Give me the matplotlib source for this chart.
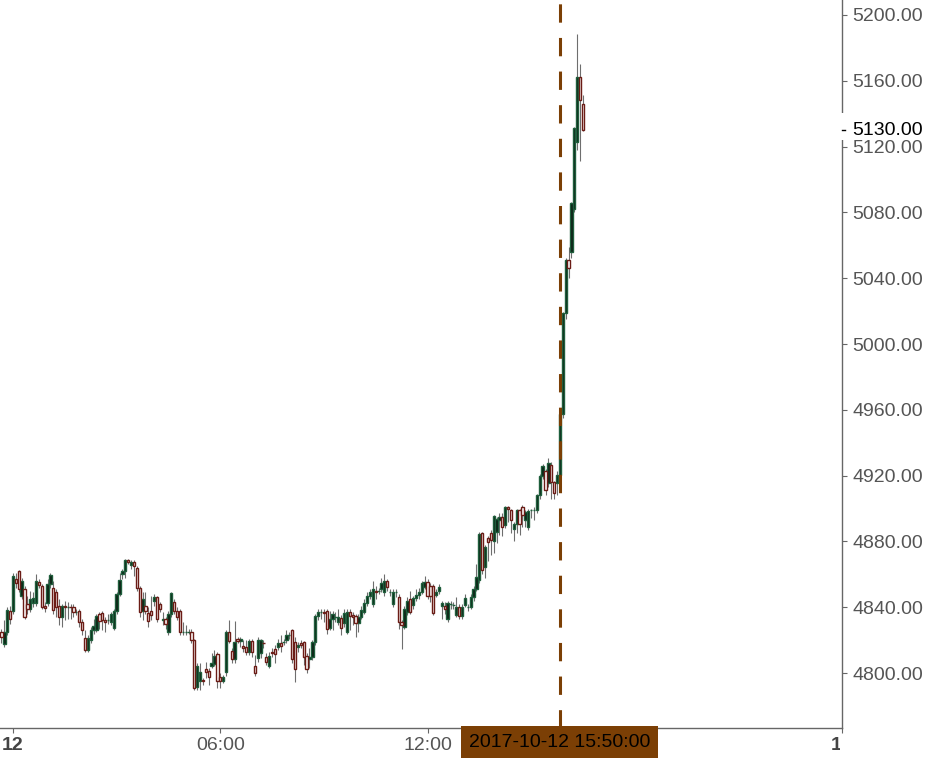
import numpy as np
import pandas as pd
import matplotlib
matplotlib.use('Agg')
import matplotlib.pyplot as plt
import matplotlib.dates as mdates
import matplotlib.transforms as mtransforms
from matplotlib.patches import Rectangle

plt.rcParams['font.family'] = ['Liberation Sans', 'DejaVu Sans']

# 5-minute candles, first one at 2017-10-11 23:40
start = '2017-10-11 23:40'

opens = [
    4825.1, 4817.6, 4825.1, 4837.9, 4837.9, 4857.0, 4862.0, 4846.8, 4850.9, 4841.7,
    4838.7, 4842.8, 4842.8, 4855.5, 4852.9, 4840.7, 4842.4, 4853.9, 4851.5, 4849.0,
    4840.7, 4834.3, 4840.7, 4840.3, 4840.3, 4839.9, 4837.3, 4837.5, 4831.0, 4821.3,
    4814.0, 4820.1, 4826.0, 4826.0, 4835.7, 4836.7, 4832.2, 4832.2, 4831.0, 4827.2,
    4837.9, 4848.0, 4860.0, 4862.0, 4868.7, 4865.7, 4867.7, 4863.6, 4851.9, 4837.7,
    4840.7, 4836.3, 4837.7, 4844.0, 4846.0, 4841.9, 4832.2, 4832.6, 4824.9, 4835.9,
    4843.0, 4837.9, 4837.7, 4824.9, 4824.9, 4824.9, 4824.9, 4819.9, 4791.5, 4795.4,
    4795.8, 4802.2, 4801.4, 4804.3, 4805.5, 4811.4, 4797.8, 4795.4, 4800.4, 4824.9,
    4813.4, 4808.3, 4820.5, 4819.3, 4816.4, 4815.6, 4812.6, 4819.5, 4804.3, 4809.3,
    4812.0, 4818.4, 4809.5, 4804.5, 4812.6, 4814.4, 4816.0, 4818.4, 4819.1, 4820.1,
    4823.1, 4826.2, 4818.7, 4816.0, 4818.0, 4818.7, 4810.1, 4808.7, 4809.9, 4818.7,
    4834.7, 4837.3, 4837.3, 4837.5, 4827.6, 4832.6, 4834.3, 4830.8, 4833.2, 4830.2,
    4825.1, 4837.3, 4835.3, 4834.7, 4830.6, 4834.3, 4837.3, 4842.4, 4846.8, 4841.9,
    4850.1, 4850.1, 4850.9, 4849.0, 4856.1, 4849.0, 4841.7, 4849.0, 4846.0, 4830.8,
    4828.2, 4837.3, 4844.8, 4841.3, 4845.4, 4847.4, 4849.0, 4852.5, 4855.3, 4852.9,
    4852.9, 4847.6, 4850.1, 4840.9, 4840.9, 4832.6, 4841.9, 4841.5, 4835.3, 4840.3,
    4834.9, 4841.3, 4840.3, 4840.3, 4846.0, 4851.0, 4856.5, 4884.9, 4864.2, 4881.8,
    4884.9, 4880.4, 4885.5, 4893.0, 4895.0, 4889.9, 4900.7, 4899.4, 4887.3, 4890.9,
    4899.4, 4900.7, 4893.0, 4888.5, 4899.0, 4899.0, 4899.0, 4908.2, 4919.7, 4922.6,
    4915.7, 4926.4, 4915.9, 4915.5, 4920.4, 4957.4, 5019.0, 5051.0, 5055.9, 5082.0,
    5122.8, 5162.3, 5145.9,
]
closes = [
    4821.7, 4825.1, 4838.3, 4832.6, 4859.0, 4854.9, 4850.9, 4855.9, 4834.3, 4838.7,
    4844.8, 4845.8, 4855.9, 4853.5, 4840.3, 4839.7, 4853.9, 4859.6, 4838.3, 4840.3,
    4834.3, 4840.7, 4840.3, 4840.3, 4839.9, 4837.1, 4837.3, 4831.0, 4826.0, 4814.0,
    4821.3, 4826.0, 4828.6, 4834.7, 4831.6, 4832.0, 4830.8, 4832.2, 4835.7, 4837.9,
    4848.0, 4856.3, 4862.0, 4868.7, 4867.7, 4867.7, 4865.3, 4851.9, 4837.3, 4844.8,
    4837.9, 4831.8, 4835.1, 4846.0, 4833.0, 4838.7, 4832.6, 4829.6, 4835.9, 4848.4,
    4837.9, 4833.8, 4824.9, 4824.9, 4824.9, 4824.9, 4819.9, 4790.7, 4804.3, 4800.8,
    4795.2, 4800.8, 4797.8, 4805.9, 4810.3, 4795.4, 4795.2, 4797.8, 4824.9, 4819.5,
    4808.3, 4818.7, 4819.3, 4820.5, 4815.2, 4812.6, 4819.5, 4812.6, 4799.8, 4820.1,
    4820.1, 4818.0, 4806.5, 4810.5, 4812.4, 4811.8, 4818.4, 4816.6, 4819.1, 4823.1,
    4823.1, 4808.7, 4802.6, 4817.0, 4817.0, 4809.9, 4802.6, 4809.9, 4818.7, 4834.7,
    4837.3, 4837.3, 4836.7, 4826.6, 4832.6, 4835.7, 4834.3, 4833.9, 4827.6, 4836.3,
    4837.3, 4834.9, 4834.3, 4830.6, 4834.3, 4838.3, 4842.4, 4846.8, 4849.0, 4850.9,
    4849.0, 4850.1, 4854.9, 4856.1, 4852.5, 4849.0, 4849.0, 4849.0, 4830.8, 4829.0,
    4838.7, 4843.8, 4837.3, 4845.4, 4847.4, 4849.0, 4854.5, 4855.3, 4847.0, 4847.0,
    4836.7, 4849.0, 4852.5, 4842.4, 4838.9, 4842.4, 4841.9, 4841.5, 4840.3, 4834.9,
    4840.3, 4845.4, 4840.3, 4846.0, 4851.0, 4858.2, 4884.5, 4862.6, 4876.4, 4879.6,
    4880.8, 4895.4, 4893.6, 4895.0, 4888.5, 4900.7, 4899.7, 4892.8, 4890.9, 4899.4,
    4890.5, 4896.0, 4897.6, 4898.6, 4899.0, 4899.0, 4908.2, 4919.7, 4925.8, 4911.2,
    4927.8, 4915.9, 4909.2, 4920.4, 4957.4, 5018.9, 5051.0, 5046.0, 5085.7, 5131.3,
    5162.3, 5148.3, 5130.0,
]
highs = [
    4827, 4832.2, 4840, 4841, 4860.6, 4861, 4862.5, 4858, 4853, 4847,
    4850, 4849, 4860, 4857, 4854, 4843, 4857, 4861, 4856, 4851,
    4845, 4842, 4844, 4843, 4842, 4842, 4839, 4839, 4833, 4826,
    4823, 4828, 4833, 4836, 4837, 4838, 4834, 4836, 4837, 4839,
    4849, 4861, 4863, 4869.5, 4869.5, 4868.5, 4868.5, 4865, 4853, 4849,
    4849, 4840, 4847, 4848, 4847, 4843, 4837, 4834, 4838, 4849.5,
    4845, 4840, 4839, 4831, 4829, 4827, 4827, 4821, 4806, 4806,
    4797, 4807, 4803, 4812, 4814, 4813, 4800, 4799, 4826, 4832,
    4815, 4831.6, 4822, 4822, 4820, 4820, 4821, 4821, 4811, 4822,
    4821, 4820, 4812, 4813, 4815, 4817, 4821, 4823, 4821, 4826,
    4825, 4827, 4822, 4819, 4820, 4819.5, 4812, 4815, 4820, 4836,
    4839, 4839, 4839, 4839, 4838, 4838, 4837, 4839, 4835, 4839,
    4839, 4839, 4837, 4836, 4836, 4841, 4845, 4849, 4851, 4856,
    4853, 4852, 4858, 4860.2, 4857, 4851, 4851, 4851, 4848, 4832,
    4841, 4846, 4850, 4847, 4851, 4852, 4856, 4859, 4857, 4855,
    4854, 4851, 4854, 4844, 4843, 4844, 4844, 4843, 4846, 4842,
    4842, 4848, 4842, 4848, 4853, 4866, 4886, 4886, 4878, 4883,
    4887, 4896, 4895, 4897, 4897, 4901.5, 4901.5, 4900, 4892, 4900,
    4900, 4902, 4899, 4900, 4900, 4901, 4909, 4921, 4927, 4924,
    4930.5, 4928, 4917, 4923, 4958, 5019.5, 5052, 5059, 5086.5, 5132,
    5188.4, 5170.3, 5151.4,
]
lows = [
    4818, 4816, 4823, 4830, 4836, 4852, 4849, 4845, 4833, 4836,
    4837, 4840, 4841, 4852, 4839, 4837, 4841, 4852, 4836, 4834,
    4829, 4828, 4832, 4833, 4833, 4834, 4835, 4828, 4823, 4813,
    4813, 4818, 4824, 4825, 4827, 4826, 4825, 4830, 4829, 4826,
    4836, 4847, 4857, 4858, 4866, 4863, 4859, 4850, 4834, 4832,
    4836, 4828, 4832, 4841, 4831, 4837, 4829, 4827, 4823, 4834,
    4836, 4832, 4823, 4823, 4823, 4824, 4818, 4789.5, 4790, 4790,
    4793, 4797, 4793, 4803, 4804, 4791, 4791, 4794, 4798, 4818,
    4806, 4806, 4818, 4816, 4813, 4811, 4811, 4810, 4798, 4807,
    4809, 4815, 4805, 4803, 4810, 4806, 4814, 4813, 4817, 4818,
    4821, 4806, 4794.8, 4813, 4815, 4805, 4800, 4803, 4808, 4817,
    4832, 4833, 4831, 4824, 4826, 4826, 4831, 4829, 4823, 4828,
    4824, 4826, 4829, 4822, 4825, 4833, 4836, 4841, 4845, 4840,
    4845, 4848, 4849, 4847, 4850, 4847, 4840, 4846, 4827, 4814.4,
    4827, 4835, 4836, 4839, 4844, 4845, 4848, 4851, 4845, 4843,
    4835, 4846, 4848, 4833, 4836, 4831, 4839, 4839, 4834, 4833,
    4833, 4840, 4838, 4839, 4844, 4850, 4855, 4860, 4858, 4868,
    4872, 4873, 4879, 4884, 4883, 4888, 4892, 4885, 4880, 4885,
    4884, 4889, 4889, 4887, 4894, 4893, 4897, 4906, 4918, 4908,
    4913, 4906, 4906, 4908, 4915, 4955, 5015, 5040, 5052, 5080,
    5118, 5111.4, 5129.5,
]

marker_time = '2017-10-12 15:50:00'
tick_times = ['2017-10-12 00:00', '2017-10-12 06:00', '2017-10-12 12:00',
              '2017-10-12 18:00', '2017-10-13 00:00']
tick_labels = ['12', '06:00', '12:00', '18:00', '13']
y_ticks = [4800, 4840, 4880, 4920, 4960, 5000, 5040, 5080, 5120, 5160, 5200]

brown = '#7b3f05'
gray = '#555555'

times = pd.date_range(start, periods=len(closes), freq='5min')
x = mdates.date2num(times)
o = np.array(opens)
c = np.array(closes)
up = c >= o
w = 5 / 1440 * 0.8

fig = plt.figure(figsize=(9.3, 7.58), dpi=100)
ax = fig.add_axes([0, 30 / 758, 842 / 930, 728 / 758])

ax.vlines(x, lows, highs, color='#6e6e6e', lw=0.8, zorder=1)
ax.bar(x[up], (c - o)[up], bottom=o[up], width=w, color='#0c1f14',
       edgecolor='#1f5e3c', linewidth=1.0, zorder=2)
ax.bar(x[~up], (c - o)[~up], bottom=o[~up], width=w, color='white',
       edgecolor='#6b1c16', linewidth=1.0, zorder=2)

t_mark = mdates.date2num(pd.Timestamp(marker_time))
ax.axvline(t_mark, color=brown, lw=2.2, dashes=(6, 5), zorder=3)

ax.set_xlim(pd.Timestamp('2017-10-11 23:37:25'), pd.Timestamp('2017-10-13 00:00'))
ax.set_ylim(4766.6, 5209.1)

for s in ['left', 'top']:
    ax.spines[s].set_visible(False)
for s in ['right', 'bottom']:
    ax.spines[s].set_color('#666666')
    ax.spines[s].set_linewidth(1)

ax.yaxis.tick_right()
ax.set_yticks(y_ticks)
ax.set_yticklabels([f'{v:.2f}' for v in y_ticks])
ax.set_xticks(pd.to_datetime(tick_times))
ax.set_xticklabels(tick_labels)
ax.tick_params(axis='y', color='#666666', labelcolor=gray, labelsize=14,
               length=3.5, pad=3.7)
ax.tick_params(axis='x', color='#666666', labelcolor=gray, labelsize=14,
               length=3.5, pad=3)

# labels past the right edge of the axes are cut off
clip = mtransforms.TransformedBbox(mtransforms.Bbox([[0, 0], [840 / 930, 1]]),
                                   fig.transFigure)
for lbl in ax.get_xticklabels():
    if ':' not in lbl.get_text():
        lbl.set_fontweight('bold')
        lbl.set_color('#444444')
    lbl.set_clip_box(clip)
    lbl.set_clip_on(True)
    if lbl.get_text() == '18:00':
        lbl.set_visible(False)  # sits under the highlighted time label

# highlighted time label on the x axis
ax.annotate(marker_time, xy=(t_mark, 0), xycoords=('data', 'axes fraction'),
            xytext=(0, -4.5), textcoords='offset points', ha='center', va='top',
            fontsize=14, color='black', zorder=10, annotation_clip=False,
            bbox=dict(boxstyle='square,pad=0.4', fc=brown, ec='none'))

# last price label on the y axis
last = closes[-1]
trans = mtransforms.blended_transform_factory(ax.transAxes, ax.transData)
ax.add_patch(Rectangle((0.998, 5124.0), 0.2, 16.4, transform=trans,
                       facecolor='white', edgecolor='none', clip_on=False, zorder=5))
ax.plot([1, 1 + 3 / 842], [last, last], transform=trans, color='black', lw=1,
        clip_on=False, zorder=6)
ax.annotate(f'{last:.2f}', xy=(1, last), xycoords=('axes fraction', 'data'),
            xytext=(7.3, 0), textcoords='offset points', ha='left', va='center',
            fontsize=14, color='black', zorder=7, annotation_clip=False)

fig.savefig('out.png', dpi=100)
